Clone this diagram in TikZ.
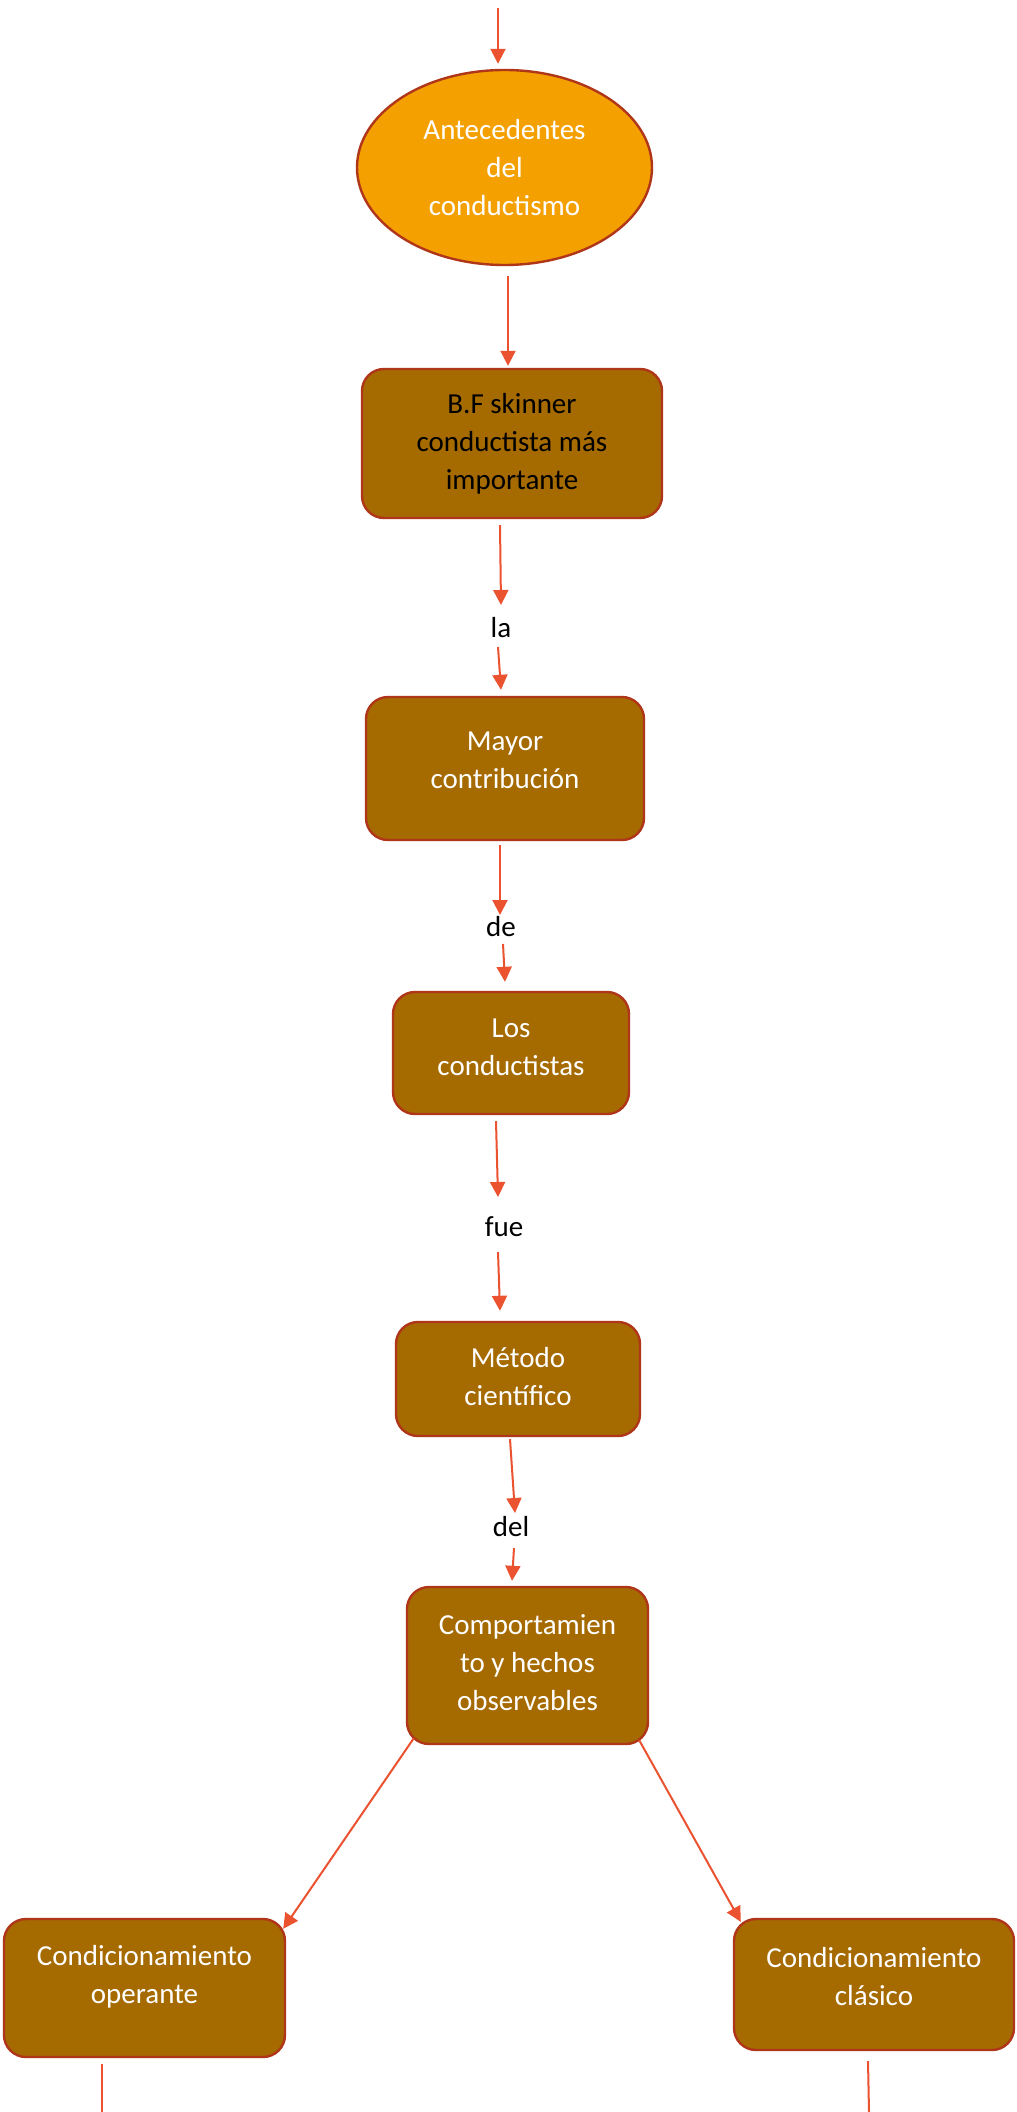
\documentclass[tikz,border=0pt]{standalone}
\usepackage{fontspec}
\setmainfont{Carlito}
\usetikzlibrary{arrows.meta,positioning,shapes}
\definecolor{brownfill}{HTML}{A56A00}
\definecolor{orangefill}{HTML}{F4A000}
\definecolor{rimred}{HTML}{B0361A}
\definecolor{linkred}{HTML}{EA5230}
\tikzset{
  concept/.style={rectangle,rounded corners=11pt,draw=rimred,line width=1.2pt,
    fill=brownfill,text=white,align=center,inner sep=0pt},
  origin/.style={ellipse,draw=rimred,line width=1.2pt,fill=orangefill,
    text=white,align=center,inner sep=0pt},
  linkword/.style={inner sep=0pt,text=black},
  connector/.style={->,>={Triangle[length=7.5pt,width=7.5pt]},draw=linkred,line width=1pt},
  conceptmap/.style={x=0.5pt,y=-0.5pt,font=\fontsize{14.5}{19}\selectfont}
}

\begin{document}
\begin{tikzpicture}[conceptmap]
      \path[use as bounding box,fill=white] (0,0) rectangle (1016,2112);
      % concepts
      \node[origin,minimum width=147.5pt,minimum height=97.5pt] (ant) at (504.5,167.5) {Antecedentes\\del\\conductismo};
      \node[concept,text=black,minimum width=150pt,minimum height=74.5pt] (skinner) at (512,443.5) {B.F skinner\\conductista más\\importante};
      \node[concept,text depth=8.5pt,minimum width=139pt,minimum height=71.5pt] (aporte) at (505,768.5) {Mayor\\contribución};
      \node[concept,text depth=5.5pt,minimum width=118pt,minimum height=61pt] (conductistas) at (511,1053) {Los\\conductistas};
      \node[concept,text depth=2.5pt,minimum width=122pt,minimum height=57pt] (metodo) at (518,1379) {Método\\científico};
      \node[concept,text depth=2.5pt,minimum width=120.5pt,minimum height=78.5pt] (hechos) at (527.5,1665.5) {Comportamien\\to y hechos\\observables};
      \node[concept,text depth=13.5pt,minimum width=140.5pt,minimum height=69pt] (operante) at (144.5,1988) {Condicionamiento\\operante};
      \node[concept,text depth=8.5pt,minimum width=140pt,minimum height=65.5pt] (clasico) at (874,1984.5) {Condicionamiento\\clásico};
      % linking words
      \node[linkword] (la) at (501,628) {la};
      \node[linkword] (de) at (501,927) {de};
      \node[linkword] (fue) at (504,1227) {fue};
      \node[linkword] (del) at (511,1527) {del};
      % free ends
      \coordinate (top) at (498,8);
      \coordinate (opend) at (102,2112);
      \coordinate (clend) at (869,2112);
      % connectors
      \draw[connector] (top) -- ([xshift=-3.25pt,yshift=2.5pt]ant.north);
      \draw[connector] ([xshift=1.75pt,yshift=-5pt]ant.south) -- ([xshift=-2pt,yshift=1pt]skinner.north);
      \draw[connector] ([xshift=-6pt,yshift=-3pt]skinner.south) -- ([yshift=11.5pt]la.center);
      \draw[connector] ([xshift=-1.5pt,yshift=-9.5pt]la.center) -- ([xshift=-2pt,yshift=3pt]aporte.north);
      \draw[connector] ([xshift=-2.5pt,yshift=-2pt]aporte.south) -- ([xshift=-0.5pt,yshift=6pt]de.center);
      \draw[connector] ([xshift=1pt,yshift=-8.5pt]de.center) -- ([xshift=-3pt,yshift=4.5pt]conductistas.north);
      \draw[connector] ([xshift=-7.5pt,yshift=-3pt]conductistas.south) -- ([xshift=-3pt,yshift=15pt]fue.center);
      \draw[connector] ([xshift=-3pt,yshift=-12.5pt]fue.center) -- ([xshift=-9pt,yshift=5pt]metodo.north);
      \draw[connector] ([xshift=-4pt,yshift=-1pt]metodo.south) -- ([xshift=2pt,yshift=7pt]del.center);
      \draw[connector] ([xshift=1.5pt,yshift=-10.5pt]del.center) -- ([xshift=-7.75pt,yshift=2.5pt]hechos.north);
      \draw[connector] ([xshift=4pt,yshift=3.5pt]hechos.south west) -- ([xshift=-1.5pt,yshift=-5.5pt]operante.north east);
      \draw[connector] ([xshift=-5pt,yshift=2.5pt]hechos.south east) -- ([xshift=4pt,yshift=-2pt]clasico.north west);
      \draw[connector,-] ([xshift=-21.25pt,yshift=-3pt]operante.south) -- (opend);
      \draw[connector,-] ([xshift=-3pt,yshift=-5pt]clasico.south) -- (clend);
\end{tikzpicture}
\end{document}
